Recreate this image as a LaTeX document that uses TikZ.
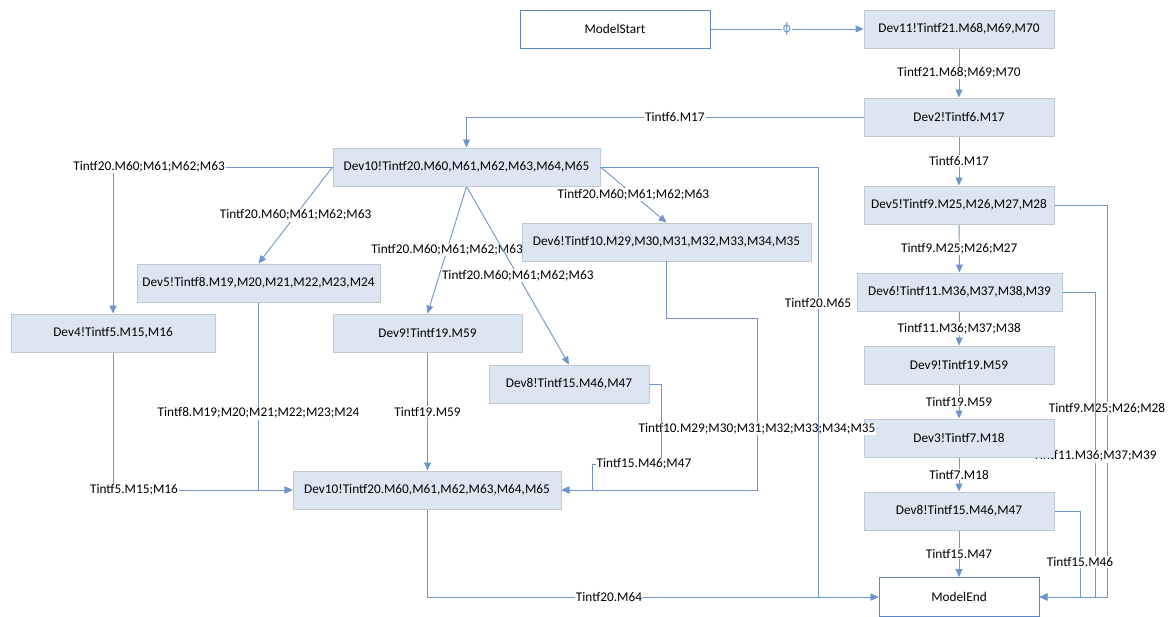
\documentclass[tikz,border=0pt]{standalone}
\usepackage{fontspec}
\setmainfont{Carlito}
\newfontfamily\symfont{DejaVu Sans}
\usetikzlibrary{arrows.meta,backgrounds}

\definecolor{linkblue}{RGB}{110,150,205}
\definecolor{boxfill}{RGB}{220,230,242}
\definecolor{boxline}{RGB}{192,200,210}
\definecolor{termline}{RGB}{90,135,195}

\tikzset{
  devbox/.style={draw=boxline, fill=boxfill, line width=0.9pt, minimum height=38pt,
    inner sep=0pt, font=\fontsize{13.3}{16}\selectfont},
  termbox/.style={draw=termline, fill=white, line width=0.9pt, minimum height=38pt,
    inner sep=0pt, font=\fontsize{13.3}{16}\selectfont},
  link/.style={draw=linkblue, line width=0.9pt, -{Triangle[length=8pt,width=7pt]}},
  lbl/.style={fill=white, inner sep=1pt, text=black, font=\fontsize{13.3}{16}\selectfont},
}

\begin{document}
\begin{tikzpicture}[x=1pt,y=-1pt]
\useasboundingbox (0,0) rectangle (1169,617);

% right-hand chain
\node[termbox, minimum width=190pt] (ms)  at (615,29)   {ModelStart};
\node[devbox,  minimum width=190pt] (d11) at (959,29)   {Dev11!Tintf21.M68,M69,M70};
\node[devbox,  minimum width=190pt] (d2)  at (959,117)  {Dev2!Tintf6.M17};
\node[devbox,  minimum width=190pt] (d5r) at (959,205)  {Dev5!Tintf9.M25,M26,M27,M28};
\node[devbox,  minimum width=205pt] (d6r) at (959.5,292){Dev6!Tintf11.M36,M37,M38,M39};
\node[devbox,  minimum width=190pt] (d9r) at (959,365)  {Dev9!Tintf19.M59};
\node[devbox,  minimum width=190pt] (d3)  at (959,438)  {Dev3!Tintf7.M18};
\node[devbox,  minimum width=190pt] (d8r) at (959,511)  {Dev8!Tintf15.M46,M47};
\node[termbox, minimum width=160pt, minimum height=39pt] (me) at (959,597) {ModelEnd};

% left-hand fan
\node[devbox, minimum width=267pt] (dtop) at (466.5,167) {Dev10!Tintf20.M60,M61,M62,M63,M64,M65};
\node[devbox, minimum width=289pt] (d6l)  at (666.5,242) {Dev6!Tintf10.M29,M30,M31,M32,M33,M34,M35};
\node[devbox, minimum width=243pt] (d5l)  at (258.5,283) {Dev5!Tintf8.M19,M20,M21,M22,M23,M24};
\node[devbox, minimum width=204pt] (d4)   at (113,333)   {Dev4!Tintf5.M15,M16};
\node[devbox, minimum width=189pt] (d9l)  at (427.5,333) {Dev9!Tintf19.M59};
\node[devbox, minimum width=160pt] (d8l)  at (569,384)   {Dev8!Tintf15.M46,M47};
\node[devbox, minimum width=268pt] (dbot) at (427,490)   {Dev10!Tintf20.M60,M61,M62,M63,M64,M65};

% routing columns and rows
\coordinate (c9)   at (1107,0);
\coordinate (c11)  at (1095,0);
\coordinate (c15)  at (1080,0);
\coordinate (c65)  at (818,0);
\coordinate (c10)  at (757,0);
\coordinate (c15a) at (661,0);
\coordinate (c15b) at (592,0);
\coordinate (r10)  at (0,318);
\coordinate (r15)  at (0,464);

\begin{pgfonlayer}{background}
\fill[white] (0,0) rectangle (1169,617);

% main vertical chain
\draw[link] (ms) -- node[lbl, text=linkblue, font=\symfont\fontsize{13}{15}\selectfont]{ϕ} (d11);
\draw[link] (d11) -- node[lbl]{Tintf21.M68;M69;M70} (d2);
\draw[link] (d2)  -- node[lbl]{Tintf6.M17} (d5r);
\draw[link] (d5r) -- node[lbl]{Tintf9.M25;M26;M27} (d6r);
\draw[link] (d6r) -- node[lbl]{Tintf11.M36;M37;M38} (d9r);
\draw[link] (d9r) -- node[lbl]{Tintf19.M59} (d3);
\draw[link] (d3)  -- node[lbl]{Tintf7.M18} (d8r);
\draw[link] (d8r) -- node[lbl]{Tintf15.M47} (me);

% side returns into ModelEnd
\draw[link] (d5r.east) -- (d5r.east -| c9) -- node[lbl, pos=0.52]{Tintf9.M25;M26;M28} (c9 |- me.east) -- (me.east);
\draw[link] (d6r.east) -- (d6r.east -| c11) -- node[lbl, pos=0.538]{Tintf11.M36;M37;M39} (c11 |- me.east) -- (me.east);
\draw[link] (d8r.east) -- (d8r.east -| c15) -- node[lbl, pos=0.593]{Tintf15.M46} (c15 |- me.east) -- (me.east);

% Dev2 into the left group
\draw[link] (d2.west) -- node[lbl, pos=0.475]{Tintf6.M17} (d2.west -| dtop.north) -- (dtop.north);

% fan-out of the upper Dev10
\draw[link] (dtop.west) -- node[lbl, pos=0.836]{Tintf20.M60;M61;M62;M63} (dtop.west -| d4.north) -- (d4.north);
\draw[link] (dtop.west) -- node[lbl]{Tintf20.M60;M61;M62;M63} (d5l.north);
\draw[link] (dtop.south) -- node[lbl]{Tintf20.M60;M61;M62;M63} (d9l.north);
\draw[link] (dtop.south) -- node[lbl]{Tintf20.M60;M61;M62;M63} (d8l.north);
\draw[link] (dtop.east) -- node[lbl]{Tintf20.M60;M61;M62;M63} (d6l.north);

% gathering into the lower Dev10
\draw[link] (d5l.south) -- node[lbl, pos=0.59]{Tintf8.M19;M20;M21;M22;M23;M24} (d5l.south |- dbot.west) -- (dbot.west);
\draw[link] (d4.south) -- (d4.south |- dbot.west) -- node[lbl, pos=0.117]{Tintf5.M15;M16} (dbot.west);
\draw[link] (d9l.south) -- node[lbl]{Tintf19.M59} (d9l.south |- dbot.north);
\draw[link] (dbot.south) -- (dbot.south |- me.west) -- node[lbl, pos=0.403]{Tintf20.M64} (me.west);
\end{pgfonlayer}

% these runs sit above the boxes and cross one another's labels
\draw[link] (d6l.south) -- (d6l.south |- r10) -- (c10 |- r10) -- node[lbl, pos=0.645]{Tintf10.M29;M30;M31;M32;M33;M34;M35} (c10 |- dbot.east) -- (dbot.east);
\draw[link] (d8l.east) -- (d8l.east -| c15a) -- (c15a |- r15) -- node[lbl, pos=0.246]{Tintf15.M46;M47} (c15b |- r15) -- (c15b |- dbot.east) -- (dbot.east);
\draw[link] (dtop.east) -- (dtop.east -| c65) -- node[lbl, pos=0.316]{Tintf20.M65} (c65 |- me.west) -- (me.west);
\end{tikzpicture}
\end{document}
